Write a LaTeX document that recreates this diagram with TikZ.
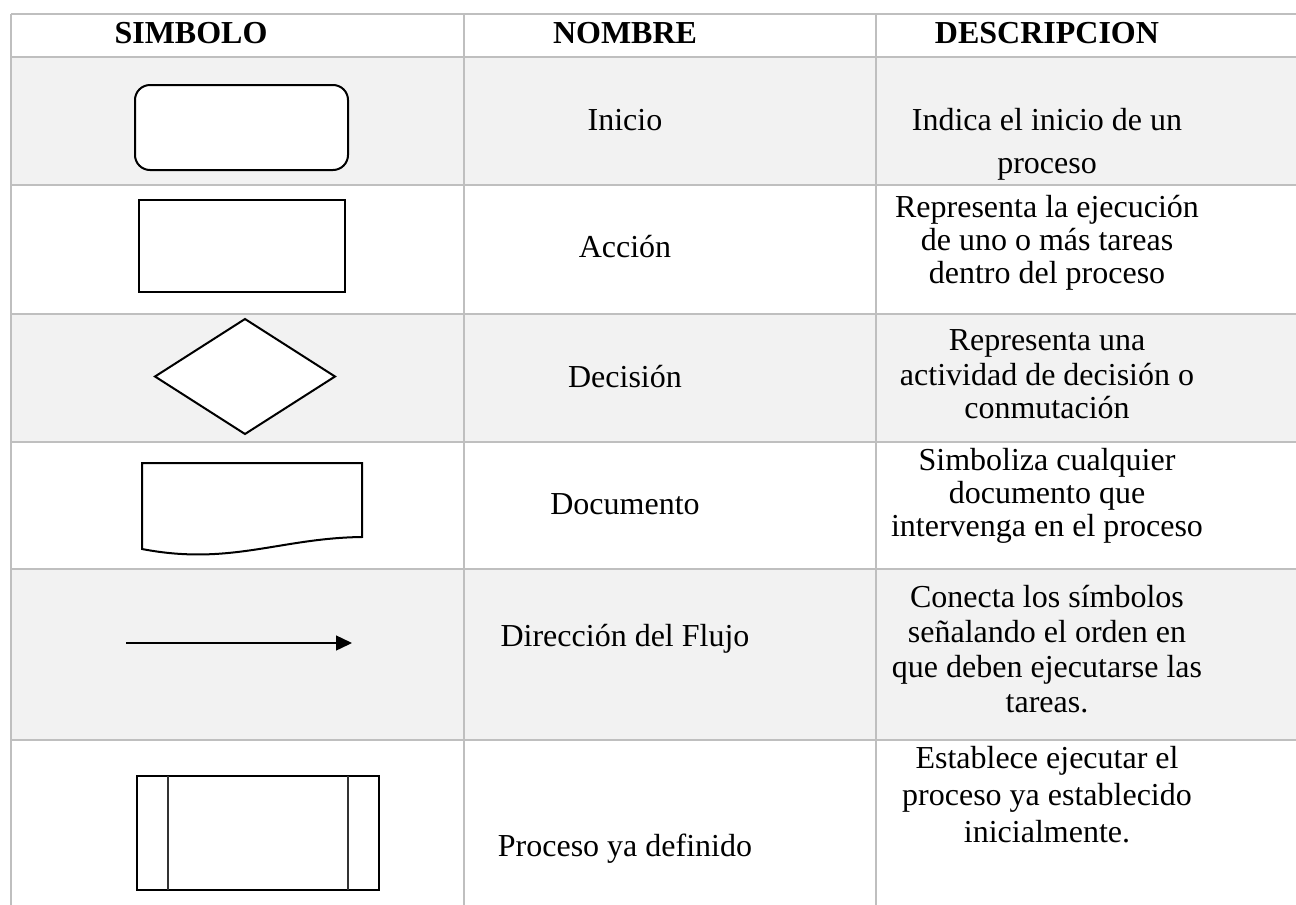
\documentclass[tikz,border=0pt]{standalone}
\usepackage{fontspec}
\setmainfont{Liberation Serif}
\usetikzlibrary{arrows.meta}

\definecolor{rowgray}{HTML}{F2F2F2}
\definecolor{rulegray}{HTML}{BFBFBF}

\begin{document}
\begin{tikzpicture}[x=0.5pt, y=-0.5pt,
    rule/.style={rulegray, line width=0.8pt},
    sym/.style={draw=black, fill=white, line width=1pt},
    head/.style={font=\fontsize{16}{18}\selectfont\bfseries, anchor=base, inner sep=0pt},
    txt/.style={font=\fontsize{16}{18}\selectfont, anchor=base, inner sep=0pt}]

    \useasboundingbox (0,0) rectangle (1296,905);

    % ====== Column centres ======
    \def\colSym{191}
    \def\colNom{625}
    \def\colDes{1047}

    % ===== Shaded rows =====
    \fill[rowgray] (11,57) rectangle (1296,185);
    \fill[rowgray] (11,314) rectangle (1296,442);
    \fill[rowgray] (11,569) rectangle (1296,740);

    % ===== Table rules =====
    \foreach \y in {14,57,185,314,442,569,740} {
        \draw[rule] (11,\y) -- (1296,\y);
    }
    \foreach \x in {11,464,876} {
        \draw[rule] (\x,14) -- (\x,905);
    }

    % ===== Header =====
    \node[head] (hSym) at (\colSym,43) {SIMBOLO};
    \node[head] (hNom) at (\colNom,43) {NOMBRE};
    \node[head] (hDes) at (\colDes,43) {DESCRIPCION};

    % ===== Names =====
    \foreach \y/\t [count=\i] in {130/Inicio, 257/Acción, 387/Decisión,
        514/Documento, 646/Dirección del Flujo, 856/Proceso ya definido} {
        \node[txt] (name\i) at (\colNom,\y) {\t};
    }

    % ===== Descriptions (one node per line) =====
    \foreach \y/\t [count=\i] in {130/Indica el inicio de un, 173/proceso,
        217/Representa la ejecución, 250/de uno o más tareas, 283/dentro del proceso,
        350/Representa una, 385/actividad de decisión o, 418/conmutación,
        470/Simboliza cualquier, 503/documento que, 536/intervenga en el proceso,
        607/Conecta los símbolos, 642/señalando el orden en, 677/que deben ejecutarse las, 712/tareas.,
        768/Establece ejecutar el, 805/proceso ya establecido, 842/inicialmente.} {
        \node[txt] (desc\i) at (\colDes,\y) {\t};
    }

    % ===== Symbols =====
    % start
    \draw[sym, rounded corners=7.5pt] (135,85) rectangle (348,170);
    % action
    \draw[sym, line width=1.3pt] (139,200) rectangle (345,292);
    % decision
    \draw[sym] (245,319) -- (335,376.5) -- (245,434) -- (155,376.5) -- cycle;
    % document
    \draw[sym] (142,463) -- (362,463) -- (362,537)
        .. controls (280,538) and (230,566) .. (142,549) -- cycle;
    % flow
    \coordinate (flowA) at (126,643);
    \coordinate (flowB) at (352,643);
    \draw[-{Triangle[length=8pt,width=7.5pt]}, line width=0.7pt] (flowA) -- (flowB);
    % predefined process
    \draw[sym] (137,776) rectangle (379,890);
    \draw[line width=0.9pt, black!80] (168,776) -- (168,890) (348,776) -- (348,890);

\end{tikzpicture}
\end{document}
